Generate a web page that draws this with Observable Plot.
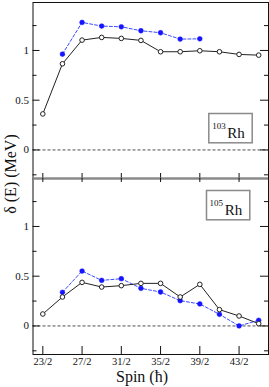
<!DOCTYPE html>
<html><head><meta charset="utf-8">
<script src="https://cdn.jsdelivr.net/npm/d3@7"></script>
<script src="https://cdn.jsdelivr.net/npm/@observablehq/plot@0.6"></script>
<style>
body{margin:0;background:#fff;}
#wrap{position:relative;width:269px;height:387px;background:#fff;}
#wrap svg{display:block;}
#wrap svg text{font-family:"Liberation Serif",serif;}
#ylab{position:absolute;left:11px;top:174px;transform:translate(-50%,-50%) rotate(-90deg);font-family:"Liberation Serif",serif;font-size:16px;white-space:nowrap;color:#111;}
</style></head><body>
<div id="wrap"><div id="ylab">δ (E) (MeV)</div></div>
<script>
// ---- data ----
const spinLabels = ["23/2","25/2","27/2","29/2","31/2","33/2","35/2","37/2","39/2","41/2","43/2","45/2"];
const xTickLabels = ["23/2","27/2","31/2","35/2","39/2","43/2"];
const yTickLabels = [0, 0.5, 1];
const yMinorTicks = [-0.25, 0.25, 0.75, 1.25];
const nuclei = ["103", "105"];
const element = "Rh";
// open black circles
const rh103Open = [0.362,0.866,1.104,1.131,1.121,1.101,0.987,0.987,0.997,0.987,0.960,0.953];
const rh105Open = [0.120,0.291,0.438,0.391,0.405,0.428,0.428,0.291,0.418,0.164,0.100,0.023];
// filled blue circles (null = no point)
const rh103Filled = [null,0.963,1.282,1.245,1.238,1.198,1.178,1.114,1.117,null,null,null];
const rh105Filled = [null,0.338,0.552,0.458,0.475,0.378,0.341,0.254,0.221,0.117,0.000,0.057];

// ---- helpers ----
const frac = s => { const [a, b] = s.split("/"); return +a / +b; };
const spins = spinLabels.map(frac);
const xTicks = xTickLabels.map(frac);
const rows = arr => arr.map((v, i) => ({x: spins[i], y: v})).filter(d => d.y != null);

const W = 269, ML = 32.5, MR = 1, FH = 176;
const FW = W - ML - MR;
const yDomain = [-0.287, 1.482];
const SERIF = "Liberation Serif, serif";
const font = {fontFamily: SERIF, fontSize: "11px", color: "#111", background: "white", overflow: "visible"};

function panel({open, filled, mass, top, box, sup, rh}) {
  const marks = [
    Plot.ruleY([0], {stroke: "#222", strokeWidth: 0.8, strokeDasharray: "3,2"}),
    Plot.line(rows(filled), {x: "x", y: "y", stroke: "#3a4cff", strokeWidth: 1, strokeDasharray: "3,2"}),
    Plot.line(rows(open), {x: "x", y: "y", stroke: "#222", strokeWidth: 1}),
    Plot.dot(rows(filled), {x: "x", y: "y", r: 2.4, fill: "#1414ff", stroke: "#1414ff", strokeWidth: 0.5}),
    Plot.dot(rows(open), {x: "x", y: "y", r: 2.3, fill: "white", stroke: "#222", strokeWidth: 1}),
    Plot.frame({stroke: "#111", strokeWidth: 1}),
    // shared boundary between panels (gray)
    Plot.ruleY([top ? yDomain[0] : yDomain[1]], {stroke: "#8a8a8a", strokeWidth: 2}),
    // y ticks, inward, both sides
    Plot.tickY(yTickLabels, {y: d => d, insetRight: FW - 7, stroke: "#111"}),
    Plot.tickY(yMinorTicks, {y: d => d, insetRight: FW - 4, stroke: "#111"}),
    Plot.tickY(yTickLabels, {y: d => d, insetLeft: FW - 8, stroke: "#111"}),
    Plot.tickY(yMinorTicks, {y: d => d, insetLeft: FW - 4, stroke: "#111"}),
    Plot.axisY({ticks: yTickLabels, tickFormat: d => String(d), tickSize: 0, tickPadding: 4, label: null, fontSize: 11, fontFamily: SERIF}),
    // nucleus label box
    Plot.frame({insetLeft: box[0], insetRight: box[1], insetTop: box[2], insetBottom: box[3], stroke: "#8a8a8a", strokeWidth: 1.5}),
    Plot.text([mass], {frameAnchor: "top-left", text: d => d, dx: sup[0], dy: sup[1], textAnchor: "start", lineAnchor: "bottom", fontSize: 9, fontFamily: SERIF, fill: "#111"}),
    Plot.text([element], {frameAnchor: "top-left", text: d => d, dx: rh[0], dy: rh[1], textAnchor: "start", lineAnchor: "bottom", fontSize: 15, fontFamily: SERIF, fill: "#111"})
  ];
  if (top) {
    marks.push(Plot.tickX(xTicks, {x: d => d, insetTop: FH - 5, stroke: "#111"}));
  } else {
    marks.push(Plot.tickX(xTicks, {x: d => d, insetBottom: FH - 4, stroke: "#111"}));
    marks.push(Plot.tickX(xTicks, {x: d => d, insetTop: FH - 8, stroke: "#111"}));
    marks.push(Plot.axisX({ticks: xTicks, tickFormat: (d, i) => xTickLabels[i], tickSize: 0, tickPadding: 3, label: null, fontSize: 10.5, fontFamily: SERIF}));
    marks.push(Plot.text(["Spin (ħ)"], {frameAnchor: "bottom", text: d => d, dx: -8.75, dy: 27, lineAnchor: "bottom", fontSize: 16, fontFamily: SERIF, fill: "#111"}));
  }
  return Plot.plot({
    width: W,
    height: top ? 178 : 209,
    marginLeft: ML, marginRight: MR,
    marginTop: top ? 2 : 0,
    marginBottom: top ? 0 : 33,
    style: font,
    x: {domain: [11, 23], axis: top ? null : undefined},
    y: {domain: yDomain},
    marks
  });
}

const wrap = document.getElementById("wrap");
wrap.insertBefore(panel({
  open: rh103Open, filled: rh103Filled, mass: nuclei[0], top: true,
  box: [175.8, 16.3, 111, 35.7], sup: [179.2, 126], rh: [194.2, 135]
}), wrap.firstChild);
wrap.insertBefore(panel({
  open: rh105Open, filled: rh105Filled, mass: nuclei[1], top: false,
  box: [173.5, 18.7, 12, 134.7], sup: [176.5, 27], rh: [191.8, 36.3]
}), document.getElementById("ylab"));
</script>
</body></html>
